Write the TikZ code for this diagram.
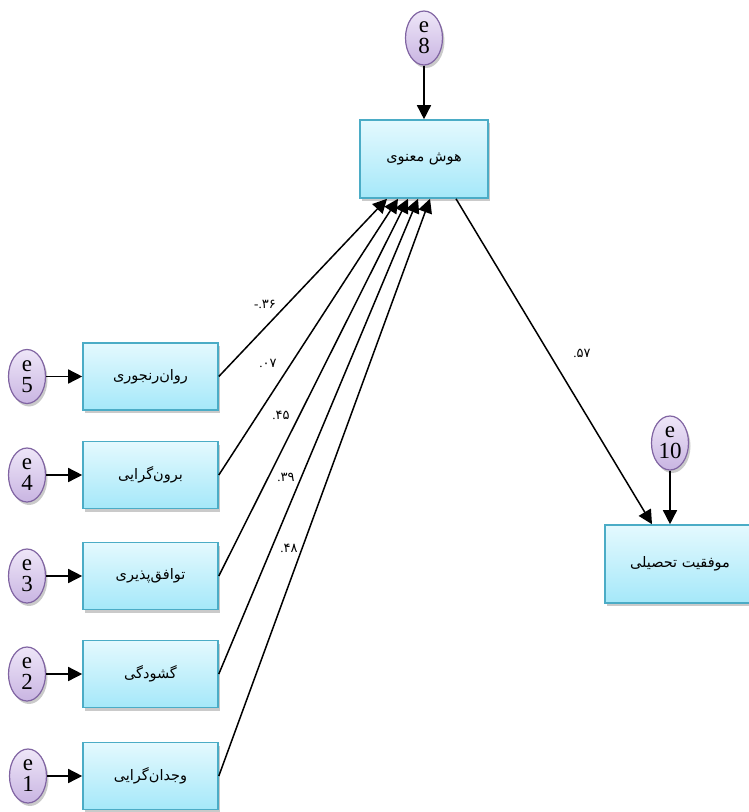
\documentclass[tikz,border=0pt]{standalone}
\usepackage{fontspec}
\setmainfont{Liberation Serif}
\newfontfamily\fa[Script=Arabic]{DejaVu Sans}
\TeXXeTstate=1
\usetikzlibrary{arrows.meta,shapes.geometric,shadows}
\definecolor{boxtop}{HTML}{E4F9FE}
\definecolor{boxbot}{HTML}{A5E8F9}
\definecolor{boxline}{HTML}{4BACC6}
\definecolor{elltop}{HTML}{EEE6F8}
\definecolor{ellbot}{HTML}{C9B5E2}
\definecolor{ellline}{HTML}{8064A2}
\tikzset{
  varbox/.style={draw=boxline, line width=1.6pt, top color=boxtop, bottom color=boxbot,
    minimum width=135pt, minimum height=67pt, inner sep=0pt,
    drop shadow={shadow xshift=2pt, shadow yshift=-3pt, opacity=0.35, fill=black!60},
    font=\fa\fontsize{14.5}{16}\selectfont},
  errell/.style={ellipse, draw=ellline, line width=1.2pt, top color=elltop, bottom color=ellbot,
    minimum width=37pt, minimum height=54pt, inner sep=0pt, align=center,
    drop shadow={shadow xshift=2pt, shadow yshift=-3pt, opacity=0.35, fill=black!60},
    font=\fontsize{23}{21}\selectfont},
  arr/.style={-{Triangle[length=14pt,width=14pt]}, line width=1.5pt},
  coef/.style={font=\fontsize{13}{15}\selectfont, inner sep=0pt}
}
\begin{document}
\begin{tikzpicture}[x=1pt,y=-1pt]
\useasboundingbox (0,0) rectangle (749,812);
% main nodes
\node[varbox, minimum width=128pt, minimum height=78pt] (hm) at (424,159) {\beginR هوش معنوی\endR};
\node[varbox, minimum width=150pt, minimum height=78pt] (ach) at (680,564) {\beginR موفقیت تحصیلی\endR};
\node[varbox] (b1) at (150.5,376.5) {\beginR روان^^^^200cرنجوری\endR};
\node[varbox] (b2) at (150.5,475) {\beginR برون^^^^200cگرایی\endR};
\node[varbox] (b3) at (150.5,576) {\beginR توافق^^^^200cپذیری\endR};
\node[varbox] (b4) at (150.5,674) {\beginR گشودگی\endR};
\node[varbox] (b5) at (150.5,776) {\beginR وجدان^^^^200cگرایی\endR};
% error terms
\node[errell] (e8) at (424,38) {e\\8};
\node[errell] (e10) at (670,443) {e\\10};
\node[errell] (e5) at (27,376.5) {e\\5};
\node[errell] (e4) at (27,475) {e\\4};
\node[errell] (e3) at (27,576) {e\\3};
\node[errell] (e2) at (27,674) {e\\2};
\node[errell] (e1) at (28,776) {e\\1};
% error arrows
\draw[arr] (e8.south) -- (hm.north);
\draw[arr] (e10.south) -- (e10.south |- ach.north);
\draw[arr] (e5.east) -- (b1.west);
\draw[arr] (e4.east) -- (b2.west);
\draw[arr] (e3.east) -- (b3.west);
\draw[arr] (e2.east) -- (b4.west);
\draw[arr] (e1.east) -- (b5.west);
% paths
\draw[arr] (b1.east) -- ([xshift=-37pt]hm.south);
\draw[arr] (b2.east) -- ([xshift=-26pt]hm.south);
\draw[arr] (b3.east) -- ([xshift=-16pt]hm.south);
\draw[arr] (b4.east) -- ([xshift=-6pt]hm.south);
\draw[arr] (b5.east) -- ([xshift=6pt]hm.south);
\draw[arr] ([xshift=32pt]hm.south) -- ([xshift=-28pt]ach.north);
% coefficients
\node[coef] (c1) at (265,304) {-.{\fa ۳۶}};
\node[coef] (c2) at (268,363) {.{\fa ۰۷}};
\node[coef] (c3) at (281,415) {.{\fa ۴۵}};
\node[coef] (c4) at (286,477) {.{\fa ۳۹}};
\node[coef] (c5) at (289,548) {.{\fa ۴۸}};
\node[coef] (c6) at (582,353) {.{\fa ۵۷}};
\end{tikzpicture}
\end{document}
